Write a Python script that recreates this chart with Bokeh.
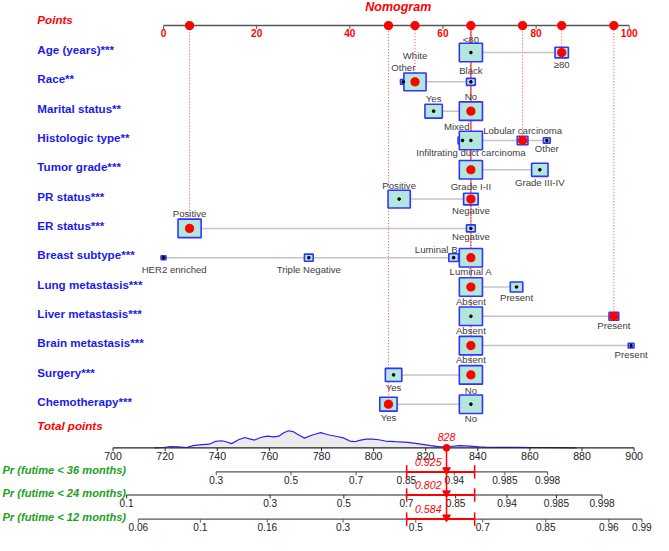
import numpy as np
from bokeh.plotting import figure
from bokeh.models import Range1d, ColumnDataSource
from bokeh.embed import file_html
from bokeh.resources import INLINE
from bokeh.core.properties import value

# ---------------- data ----------------
title = "Nomogram"
row_names = ["Age (years)***", "Race**", "Marital status**", "Histologic type**",
             "Tumor grade***", "PR status***", "ER status***", "Breast subtype***",
             "Lung metastasis***", "Liver metastasis***", "Brain metastasis***",
             "Surgery***", "Chemotherapy***"]
cat_labels = [
    ["<80", "≥80"],
    ["Other", "White", "Black"],
    ["Yes", "No"],
    ["Mixed", "Infiltrating duct carcinoma", "Lobular carcinoma", "Other"],
    ["Grade I-II", "Grade III-IV"],
    ["Positive", "Negative"],
    ["Positive", "Negative"],
    ["HER2 enriched", "Triple Negative", "Luminal B", "Luminal A"],
    ["Absent", "Present"],
    ["Absent", "Present"],
    ["Absent", "Present"],
    ["Yes", "No"],
    ["Yes", "No"],
]
cat_points = [
    [66, 85.5],
    [51.5, 54, 66],
    [58, 66],
    [64.2, 66, 77.1, 82.3],
    [66, 80.8],
    [50.6, 66],
    [5.6, 66],
    [0, 31.2, 62.3, 66],
    [66, 75.8],
    [66, 96.7],
    [66, 100.4],
    [49.4, 66],
    [48.3, 66],
]
# relative frequency indicator (box size, 1 = largest)
cat_size = [
    [1.0, 0.58],
    [0.25, 0.96, 0.38],
    [0.75, 1.0],
    [0.38, 1.0, 0.46, 0.29],
    [1.0, 0.71],
    [0.96, 0.63],
    [1.0, 0.38],
    [0.21, 0.38, 0.42, 1.0],
    [1.0, 0.54],
    [1.0, 0.42],
    [1.0, 0.25],
    [0.71, 1.0],
    [0.75, 1.0],
]
selected = [1, 1, 1, 2, 0, 1, 0, 3, 0, 1, 0, 1, 0]

points_ticks = [0, 20, 40, 60, 80, 100]
total_ticks = [700, 720, 740, 760, 780, 800, 820, 840, 860, 880, 900]
total_score = 828
total_ci = [812.7, 838.8]

pr_names = ["Pr (futime < 36 months)", "Pr (futime < 24 months)", "Pr (futime < 12 months)"]
pr_values = ["0.925", "0.802", "0.584"]
pr_tick_labels = [
    ["0.3", "0.5", "0.7", "0.85", "0.94", "0.985", "0.998"],
    ["0.1", "0.3", "0.5", "0.7", "0.85", "0.94", "0.985", "0.998"],
    ["0.06", "0.1", "0.16", "0.3", "0.5", "0.7", "0.85", "0.96", "0.99"],
]
pr_tick_totals = [
    [739.6, 768.3, 793.3, 812.6, 831.0, 850.4, 866.8],
    [705.2, 760.3, 788.6, 812.6, 831.5, 851.2, 870.2, 887.7],
    [709.7, 733.5, 759.2, 788.3, 816.2, 841.9, 866.1, 890.3, 903.0],
]

density_total = [716, 719.5, 722, 725, 728.2, 730.7, 733.1, 736.9, 739.4, 741.8, 743.7,
                 745.5, 748, 750.5, 752.4, 754.3, 756.7, 759.2, 761.7, 763.6, 765.4,
                 767.3, 769.2, 771.6, 773.5, 776, 777.8, 779.7, 781.6, 783.4, 785.9,
                 788.4, 790.9, 792.7, 794.6, 797.1, 799.6, 802, 804.5, 808.3, 813.2,
                 818.2, 821.9, 825.6, 829.3, 833.1, 836.8, 840.5, 843, 848, 855, 862,
                 870, 878]
density_val = [0, 0.3, 1.3, 1, 0.3, 2.3, 3, 3.7, 6.7, 7.3, 6, 4.3, 8, 10.7, 9.3, 8,
               10.7, 12, 11.3, 12, 15.3, 17.7, 16.7, 12.7, 10, 12.7, 14.3, 15.7, 14.3,
               13, 11.7, 10.3, 7, 6.3, 7.7, 9, 9, 8.3, 7, 6.3, 5.7, 3.7, 2.3, 1, 1.3,
               2.3, 1.7, 1, 0.7, 0.5, 0.4, 0.3, 0.2, 0]

# ---------------- layout (reference pixel space) ----------------
label_dy = [
    [-14, 12],
    [-15, -27, -12],
    [-13, -15],
    [-14, 13, -10, 8],
    [17, 13],
    [-14, 12],
    [-15, 8],
    [12, 12, -9, 14],
    [15, 11],
    [15, 10],
    [14, 9],
    [13, 16],
    [14, 15],
]
label_dx = [
    [0, 0],
    [0, 0, 0],
    [0, 0],
    [-6, 0, 0, 0],
    [0, 0],
    [0, 0],
    [0, 0],
    [11, 0, -18, 0],
    [0, 0],
    [0, 0],
    [0, 0],
    [0, 0],
    [0, 0],
]

W, H = 653, 535
REF_W, REF_H = 673, 555
S = min(W / REF_W, H / REF_H)
ROW_Y0, ROW_STEP = 54, 30.4
PTS_AXIS_Y = 26
TOT_AXIS_Y = 464
PR_AXIS_Y = [489, 513, 538]
BOX_MAX = 24  # px width of largest box


def px_pt(px):
    return (px - 168) / 4.8


def px_tot(px):
    return 700 + (px - 116) / 2.685


def fs(v):
    return f"{v * S:.1f}px"


FONT = value("Liberation Sans")
RED = "#ff0000"
BLUE_TXT = "#1a1aee"
GREEN = "#22a022"

p = figure(width=W, height=H,
           x_range=Range1d(px_pt(0), px_pt(REF_W)),
           y_range=Range1d(REF_H, 0),
           output_backend="svg", toolbar_location=None,
           x_axis_location=None, y_axis_location=None,
           min_border=0, outline_line_color=None,
           background_fill_color="white", border_fill_color="white")
p.extra_x_ranges = {"tot": Range1d(px_tot(0), px_tot(REF_W))}
p.grid.grid_line_color = None

# ---------- title and left labels ----------
p.text(x=[px_pt(410)], y=[7], text=[title], text_font=FONT, text_font_size=fs(13),
       text_font_style="bold italic", text_color=RED, text_align="center",
       text_baseline="middle")
p.text(x=[px_pt(38)], y=[20], text=["Points"], text_font=FONT, text_font_size=fs(12),
       text_font_style="bold italic", text_color=RED, text_align="left",
       text_baseline="middle")
row_y = [ROW_Y0 + i * ROW_STEP for i in range(len(row_names))]
p.text(x=[px_pt(38)] * len(row_names), y=[y - 3 for y in row_y], text=row_names,
       text_font=FONT, text_font_size=fs(12), text_font_style="bold",
       text_color=BLUE_TXT, text_align="left", text_baseline="middle")
p.text(x=[px_pt(38)], y=[441], text=["Total points"], text_font=FONT,
       text_font_size=fs(12), text_font_style="bold italic", text_color=RED,
       text_align="left", text_baseline="middle")
p.text(x=[px_pt(2)] * 3, y=[y - 2 for y in PR_AXIS_Y], text=pr_names, text_font=FONT,
       text_font_size=fs(11.5), text_font_style="bold italic", text_color=GREEN,
       text_align="left", text_baseline="middle")

# ---------- points axis ----------
p.segment(x0=[points_ticks[0]], y0=[PTS_AXIS_Y], x1=[points_ticks[-1]], y1=[PTS_AXIS_Y],
          line_color="#555555", line_width=1.5)
p.segment(x0=points_ticks, y0=[PTS_AXIS_Y] * len(points_ticks), x1=points_ticks,
          y1=[PTS_AXIS_Y + 3.5] * len(points_ticks), line_color="#555555", line_width=1)
p.text(x=points_ticks, y=[PTS_AXIS_Y + 8] * len(points_ticks),
       text=[str(t) for t in points_ticks], text_font=FONT, text_font_size=fs(10.5),
       text_font_style="bold", text_color=RED, text_align="center",
       text_baseline="middle")

# ---------- rows ----------
seg = dict(x0=[], x1=[], y=[])
box = dict(x=[], y=[], w=[], h=[])
blk = dict(x=[], y=[])
sel = dict(x=[], y=[])
lab = dict(x=[], y=[], t=[])
dotl = dict(x=[], y0=[])
for i, (labs, pts, sizes, s_idx) in enumerate(zip(cat_labels, cat_points, cat_size, selected)):
    y = row_y[i]
    seg["x0"].append(min(pts)); seg["x1"].append(max(pts)); seg["y"].append(y)
    for j, (lb, pt, sz) in enumerate(zip(labs, pts, sizes)):
        w = max(BOX_MAX * sz, 5)
        box["x"].append(pt); box["y"].append(y)
        box["w"].append(w * S); box["h"].append(w * 0.8 * S)
        if j == s_idx:
            sel["x"].append(pt); sel["y"].append(y)
            dotl["x"].append(pt); dotl["y0"].append(y)
        else:
            blk["x"].append(pt); blk["y"].append(y)
        lab["x"].append(pt + label_dx[i][j] / 4.8)
        lab["y"].append(y + label_dy[i][j])
        lab["t"].append(lb)

# red dotted guide lines (drawn from each row up to the points axis)
p.segment(x0=dotl["x"], y0=dotl["y0"], x1=dotl["x"], y1=[PTS_AXIS_Y] * len(dotl["x"]),
          line_color="#ff4040", line_width=1, line_dash="1 2")
# connection lines
p.segment(x0=seg["x0"], y0=seg["y"], x1=seg["x1"], y1=seg["y"],
          line_color="#c4c4c4", line_width=1.5)
p.rect(x="x", y="y", width="w", height="h", width_units="screen", height_units="screen",
       source=ColumnDataSource(box), fill_color="#b3e7dc", line_color="#3333ff",
       line_width=1.6)
p.scatter(x=blk["x"], y=blk["y"], size=2.8 * S, color="black")
p.scatter(x=sel["x"], y=sel["y"], size=8.5 * S, color=RED)
p.text(x=lab["x"], y=lab["y"], text=lab["t"], text_font=FONT, text_font_size=fs(10),
       text_color="#404040", text_align="center", text_baseline="middle")
# selected points on the points axis
uniq = sorted(set(sel["x"]))
p.scatter(x=uniq, y=[PTS_AXIS_Y] * len(uniq), size=8.5 * S, color=RED)

# ---------- density over total points ----------
dens_y = [TOT_AXIS_Y - d for d in density_val]
p.varea(x=density_total, y1=[TOT_AXIS_Y] * len(density_total), y2=dens_y,
        fill_color="#ebebeb", x_range_name="tot")
p.line(x=density_total, y=dens_y, line_color="#2222ff", line_width=1.2,
       x_range_name="tot")

# ---------- total points axis ----------
p.segment(x0=[total_ticks[0]], y0=[TOT_AXIS_Y], x1=[total_ticks[-1]], y1=[TOT_AXIS_Y],
          line_color="#222222", line_width=1.2, x_range_name="tot")
p.segment(x0=total_ticks, y0=[TOT_AXIS_Y] * len(total_ticks), x1=total_ticks,
          y1=[TOT_AXIS_Y + 3.5] * len(total_ticks), line_color="#222222", line_width=1,
          x_range_name="tot")
p.text(x=total_ticks, y=[TOT_AXIS_Y + 8.5] * len(total_ticks),
       text=[str(t) for t in total_ticks], text_font=FONT, text_font_size=fs(11),
       text_color="#222222", text_align="center", text_baseline="middle",
       x_range_name="tot")

# ---------- probability axes ----------
pr_line_colors = ["#555555", "#222222", "#555555"]
for k in range(3):
    ya = PR_AXIS_Y[k]
    tt = pr_tick_totals[k]
    p.segment(x0=[tt[0]], y0=[ya], x1=[tt[-1]], y1=[ya], line_color=pr_line_colors[k],
              line_width=1.2, x_range_name="tot")
    p.segment(x0=tt, y0=[ya] * len(tt), x1=tt, y1=[ya + 3.5] * len(tt),
              line_color=pr_line_colors[k], line_width=1, x_range_name="tot")
    p.text(x=tt, y=[ya + 8.5] * len(tt), text=pr_tick_labels[k], text_font=FONT,
           text_font_size=fs(10.5), text_color="#222222", text_align="center",
           text_baseline="middle", x_range_name="tot")

# ---------- red patient annotation ----------
p.segment(x0=[total_score], y0=[TOT_AXIS_Y], x1=[total_score], y1=[PR_AXIS_Y[-1]],
          line_color=RED, line_width=1.5, x_range_name="tot")
p.scatter(x=[total_score], y=[TOT_AXIS_Y], size=7 * S, color=RED, x_range_name="tot")
p.text(x=[total_score], y=[TOT_AXIS_Y - 11], text=[str(total_score)], text_font=FONT,
       text_font_size=fs(11), text_font_style="italic", text_color=RED,
       text_align="center", text_baseline="middle", x_range_name="tot")
for k in range(3):
    ya = PR_AXIS_Y[k]
    p.segment(x0=[total_ci[0]], y0=[ya], x1=[total_ci[1]], y1=[ya], line_color=RED,
              line_width=2, x_range_name="tot")
    p.segment(x0=total_ci, y0=[ya - 7] * 2, x1=total_ci, y1=[ya + 7] * 2,
              line_color=RED, line_width=1.5, x_range_name="tot")
    p.scatter(x=[total_score], y=[ya - 2], marker="inverted_triangle", size=8 * S,
              color=RED, x_range_name="tot")
    p.text(x=[total_score - 7], y=[ya - 10], text=[pr_values[k]], text_font=FONT,
           text_font_size=fs(11), text_font_style="italic", text_color=RED,
           text_align="center", text_baseline="middle", x_range_name="tot")

open("out.html", "w").write(file_html(p, INLINE))
